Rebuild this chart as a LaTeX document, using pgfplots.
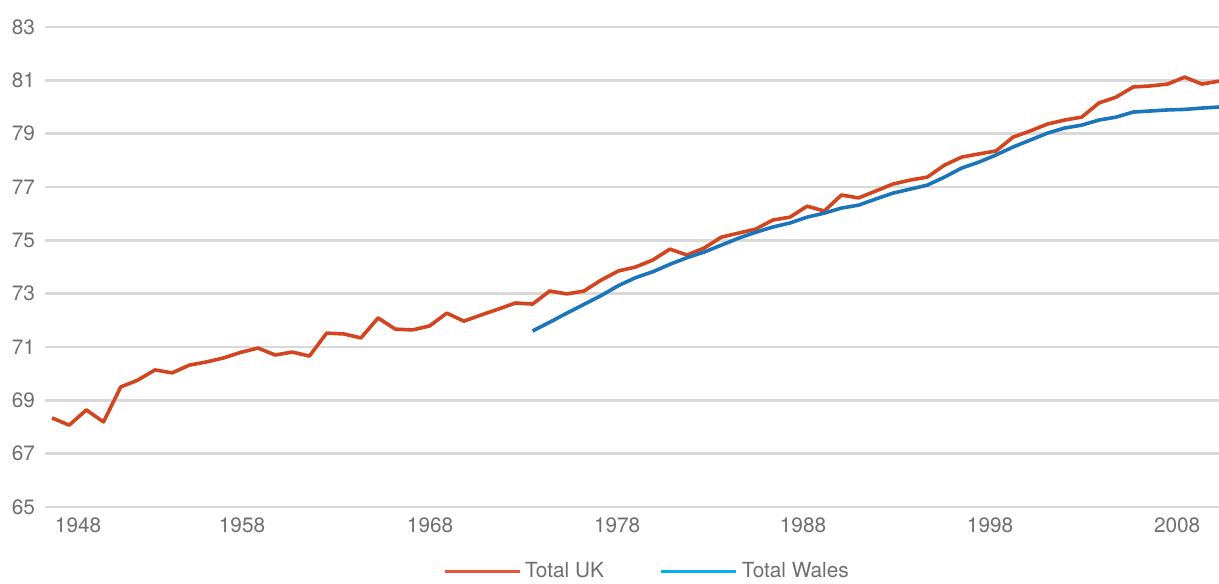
\documentclass[border=0pt]{standalone}
\usepackage{fontspec}
\setmainfont{TeX Gyre Heros}
\usepackage{pgfplots}
\pgfplotsset{compat=1.18}
\usepackage{pgfplotstable}
\definecolor{ukline}{HTML}{D2451F}
\definecolor{walesline}{HTML}{1B75BB}
\definecolor{uklegend}{HTML}{E8563A}
\definecolor{waleslegend}{HTML}{00B0F0}
\definecolor{gridc}{HTML}{D9D9D9}
\definecolor{textc}{HTML}{6E6E6E}

\pgfplotstableread{
i v
0 68.34
1 68.07
2 68.64
3 68.19
4 69.50
5 69.76
6 70.14
7 70.03
8 70.32
9 70.44
10 70.59
11 70.80
12 70.96
13 70.70
14 70.81
15 70.66
16 71.52
17 71.49
18 71.34
19 72.09
20 71.67
21 71.64
22 71.79
23 72.27
24 71.97
25 72.20
26 72.42
27 72.65
28 72.61
29 73.10
30 72.99
31 73.10
32 73.51
33 73.85
34 74.00
35 74.26
36 74.67
37 74.45
38 74.71
39 75.12
40 75.27
41 75.42
42 75.76
43 75.87
44 76.28
45 76.10
46 76.70
47 76.59
48 76.85
49 77.11
50 77.26
51 77.37
52 77.82
53 78.12
54 78.24
55 78.35
56 78.87
57 79.10
58 79.36
59 79.51
60 79.62
61 80.15
62 80.37
63 80.75
64 80.79
65 80.86
66 81.12
67 80.86
68 80.97
}\uk

\pgfplotstableread{
i v
28 71.60
29 71.93
30 72.27
31 72.60
32 72.93
33 73.30
34 73.60
35 73.82
36 74.10
37 74.35
38 74.56
39 74.82
40 75.08
41 75.30
42 75.50
43 75.65
44 75.87
45 76.02
46 76.21
47 76.32
48 76.55
49 76.77
50 76.92
51 77.07
52 77.37
53 77.71
54 77.93
55 78.20
56 78.50
57 78.76
58 79.02
59 79.21
60 79.32
61 79.51
62 79.62
63 79.81
64 79.85
65 79.89
66 79.91
67 79.96
68 80.00
}\wales

\begin{document}
\begin{tikzpicture}
\begin{axis}[
  at={(0pt,0pt)}, anchor=south west,
  scale only axis, width=587pt, height=240pt,
  xmin=-0.41, xmax=68, ymin=65, ymax=83,
  ytick={65,67,...,83},
  xtick={1.52,11.07,22.03,32.93,43.76,54.66,65.56},
  xticklabels={1948,1958,1968,1978,1988,1998,2008},
  axis line style={draw=none},
  major tick length=0pt,
  ymajorgrids, grid style={gridc, line width=1.3pt},
  /pgf/number format/assume math mode=true,
  tick label style={font=\fontsize{10.4}{12}\selectfont, text=textc},
  yticklabel style={xshift=-1.5pt},
  xticklabel style={yshift=-2pt},
  legend style={draw=none, fill=none, at={(axis description cs:0.5136,-0.135)}, anchor=center,
    font=\fontsize{10.4}{12}\selectfont, text=textc, legend columns=2,
    /tikz/every even column/.append style={column sep=26pt}},
  legend image code/.code={\draw[#1, line width=1.5pt] (0pt,0pt) -- (37.5pt,0pt);},
]
\addlegendimage{uklegend}
\addlegendentry{Total UK}
\addlegendimage{waleslegend}
\addlegendentry{Total Wales}
\addplot[ukline, line width=1.8pt, line join=round, forget plot] table[x=i, y=v] {\uk};
\addplot[walesline, line width=1.8pt, line join=round, forget plot] table[x=i, y=v] {\wales};
\end{axis}
\pgfresetboundingbox
\path (-22.5pt,-38pt) rectangle (587pt,253.5pt);
\end{tikzpicture}
\end{document}
